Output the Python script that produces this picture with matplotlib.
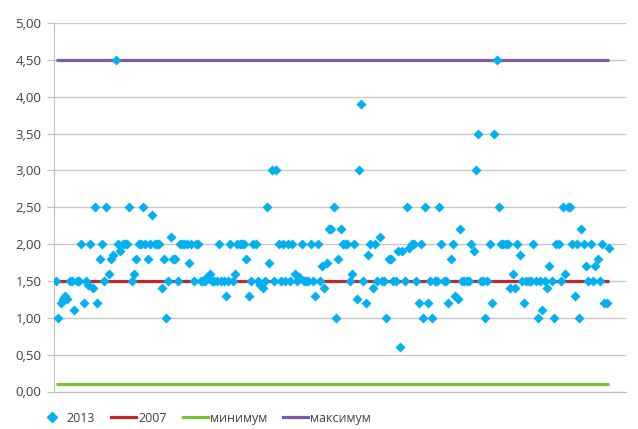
import matplotlib
matplotlib.use("Agg")
import matplotlib.pyplot as plt
from matplotlib.ticker import FuncFormatter
from matplotlib.lines import Line2D

plt.rcParams['font.family'] = ['Open Sans', 'DejaVu Sans']

values_2013 = [
    1.5, 1.0, 1.2, 1.25, 1.3, 1.25, 1.5, 1.5, 1.1, 1.5, 1.5, 2.0, 1.2, 1.5, 1.45, 2.0, 1.4, 2.5, 1.2, 1.8,
    2.0, 1.5, 2.5, 1.6, 1.8, 1.85, 4.5, 2.0, 1.9, 2.0, 2.0, 2.0, 2.5, 1.5, 1.6, 1.8, 2.0, 2.0, 2.5, 2.0,
    1.8, 2.0, 2.4, 2.0, 2.0, 2.0, 1.4, 1.8, 1.0, 1.5, 2.1, 1.8, 1.8, 1.5, 2.0, 2.0, 2.0, 2.0, 1.75, 2.0,
    1.5, 2.0, 2.0, 1.5, 1.5, 1.5, 1.55, 1.6, 1.5, 1.5, 1.5, 2.0, 1.5, 1.5, 1.3, 1.5, 2.0, 1.5, 1.6, 2.0,
    2.0, 2.0, 2.0, 1.8, 1.3, 1.5, 2.0, 2.0, 1.5, 1.45, 1.4, 1.5, 2.5, 1.75, 3.0, 1.5, 3.0, 2.0, 1.5, 2.0,
    1.5, 2.0, 1.5, 2.0, 1.6, 1.5, 1.55, 2.0, 1.5, 1.5, 1.5, 2.0, 1.5, 1.3, 2.0, 1.5, 1.7, 1.4, 1.75, 2.2,
    2.2, 2.5, 1.0, 1.8, 2.2, 2.0, 2.0, 2.0, 1.5, 1.6, 2.0, 1.25, 3.0, 3.9, 1.5, 1.2, 1.85, 2.0, 1.4, 2.0,
    1.5, 2.1, 1.5, 1.5, 1.0, 1.8, 1.8, 1.5, 1.5, 1.9, 0.6, 1.9, 1.5, 2.5, 1.95, 2.0, 2.0, 1.5, 1.2, 2.0,
    1.0, 2.5, 1.2, 1.5, 1.0, 1.5, 1.5, 2.5, 2.0, 1.5, 1.5, 1.2, 1.8, 2.0, 1.3, 1.25, 2.2, 1.5, 1.5, 1.5,
    1.5, 2.0, 1.9, 3.0, 3.5, 1.5, 1.5, 1.0, 1.5, 2.0, 1.2, 3.5, 4.5, 2.5, 2.0, 2.0, 2.0, 2.0, 1.4, 1.6,
    1.4, 2.0, 1.85, 1.5, 1.2, 1.5, 1.5, 1.5, 2.0, 1.5, 1.0, 1.5, 1.1, 1.5, 1.4, 1.7, 1.5, 1.0, 2.0, 2.0,
    1.5, 2.5, 1.6, 2.5, 2.5, 2.0, 1.3, 2.0, 1.0, 2.2, 2.0, 1.7, 1.5, 2.0, 1.5, 1.7, 1.8, 1.5, 2.0, 1.2,
    1.2, 1.95,
]
value_2007 = 1.5
value_min = 0.1
value_max = 4.5
legend_labels = ["2013", "2007", "минимум", "максимум"]
y_ticks = [0, 0.5, 1.0, 1.5, 2.0, 2.5, 3.0, 3.5, 4.0, 4.5, 5.0]

c_pts = "#00B0F0"
c_red = "#C0282D"
c_green = "#7DBE3C"
c_purple = "#7F5AA8"

n = len(values_2013)
x = list(range(n))

fig = plt.figure(figsize=(6.38, 4.29), dpi=100)
ax = fig.add_axes([54/638, 1 - 391.5/429, (626-54)/638, (391.5-23)/429])

ax.plot([0, n - 1], [value_2007] * 2, color=c_red, lw=2.3, zorder=2, solid_capstyle='butt')
ax.plot([0, n - 1], [value_min] * 2, color=c_green, lw=2.3, zorder=2, solid_capstyle='butt')
ax.plot([0, n - 1], [value_max] * 2, color=c_purple, lw=2.3, zorder=2, solid_capstyle='butt')
ax.scatter(x, values_2013, marker='D', s=26, color=c_pts, linewidths=0, zorder=3)

spacing = (609 - 56) / (n - 1)
ax.set_xlim(-(56 - 54) / spacing, (n - 1) + (626 - 609) / spacing)
ax.set_ylim(0, 5)
ax.set_yticks(y_ticks)
ax.yaxis.set_major_formatter(FuncFormatter(lambda v, p: f"{v:.2f}".replace('.', ',')))
ax.set_xticks([])
ax.grid(axis='y', color='#C8C8C8', lw=1)
ax.set_axisbelow(True)
for s in ['top', 'right']:
    ax.spines[s].set_visible(False)
ax.spines['left'].set_color('#BEBEBE')
ax.spines['bottom'].set_color('#BEBEBE')
ax.tick_params(axis='y', length=5, color='#BEBEBE', labelsize=9.5, labelcolor='#404040', pad=4)

handles = [
    Line2D([], [], marker='D', color=c_pts, linestyle='none', markersize=5),
    Line2D([], [], color=c_red, lw=2.3),
    Line2D([], [], color=c_green, lw=2.3),
    Line2D([], [], color=c_purple, lw=2.3),
]
fig.legend(handles, legend_labels, loc='center left', bbox_to_anchor=(0.045, 0.025), ncol=4,
           frameon=False, fontsize=9, handlelength=2.0, columnspacing=1.3, handletextpad=0.15,
           labelcolor='#404040')

fig.savefig("out.png", dpi=100)
